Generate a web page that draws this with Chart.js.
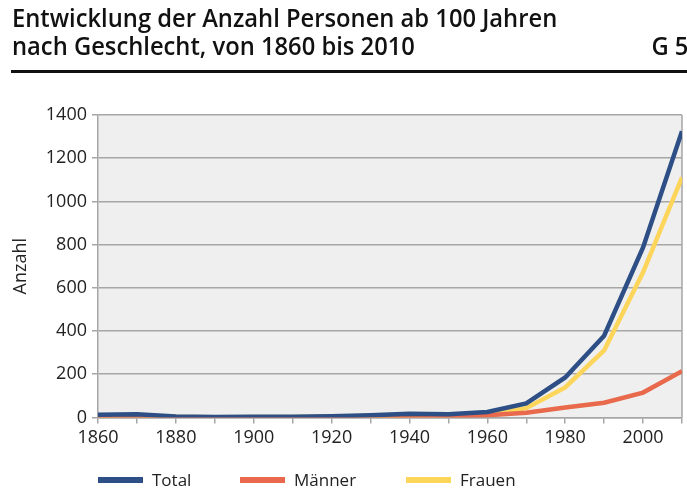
<!DOCTYPE html>
<html>
<head>
<meta charset="utf-8">
<script src="https://cdn.jsdelivr.net/npm/chart.js@4"></script>
<style>
  html, body { margin: 0; padding: 0; background: #fff; }
  #wrap { position: relative; width: 687px; height: 490px; overflow: hidden; }
  #title { position: absolute; left: 12px; top: 3px; width: 712px; font-family: "Open Sans", sans-serif; font-weight: 600; font-size: 25px; line-height: 28px; color: #111; transform: scaleX(0.95); transform-origin: 0 0; }
  #title .g { position: absolute; right: 0; top: 28px; }
  #rule { position: absolute; left: 11px; top: 70px; width: 676px; height: 3px; background: #111; }
  #chart { position: absolute; left: 0; top: 0; }
  #legend { position: absolute; top: 468px; left: 0; width: 687px; height: 24px; font-family: "Open Sans", sans-serif; font-size: 17px; color: #222; }
  #legend span.item { position: absolute; top: 0; line-height: 24px; white-space: nowrap; }
  #legend i { display: inline-block; width: 45px; height: 6px; vertical-align: middle; margin-right: 9px; position: relative; top: -1px; }
</style>
</head>
<body>
<div id="wrap">
  <canvas id="chart" width="687" height="490"></canvas>
  <div id="title">Entwicklung der Anzahl Personen ab 100 Jahren<br>nach Geschlecht, von 1860 bis 2010<span class="g">G 5</span></div>
  <div id="rule"></div>
  <div id="legend"></div>
</div>
<script>
// Jahre und Werte (Personen ab 100 Jahren)
const years = [1860, 1870, 1880, 1890, 1900, 1910, 1920, 1930, 1940, 1950, 1960, 1970, 1980, 1990, 2000, 2010];
const total = [12, 15, 4, 2, 3, 3, 5, 10, 17, 15, 25, 65, 185, 378, 787, 1325];
const maenner = [4, 5, 1, 1, 1, 1, 2, 4, 8, 5, 10, 22, 46, 68, 115, 214];
const frauen = [8, 10, 3, 1, 2, 2, 3, 6, 9, 10, 15, 43, 139, 310, 672, 1111];
const seriesNames = ['Total', 'Männer', 'Frauen'];
const seriesColors = ['#2d4f85', '#e8694c', '#fcd55a'];
const yTicks = [0, 200, 400, 600, 800, 1000, 1200, 1400];
const legendX = [98, 240, 406];

const toPoints = (vals) => vals.map((v, i) => ({ x: years[i], y: v }));

// grauer Hintergrund der Zeichenfläche
const plotBg = {
    id: 'plotBg',
    beforeDraw(chart) {
        const { ctx, chartArea: a } = chart;
        ctx.save();
        ctx.fillStyle = '#efefef';
        ctx.fillRect(a.left, a.top, a.right - a.left, a.bottom - a.top);
        ctx.strokeStyle = '#a6a6a6';
        ctx.lineWidth = 1.5;
        ctx.beginPath();
        ctx.moveTo(a.right, a.top);
        ctx.lineTo(a.right, a.bottom);
        ctx.stroke();
        ctx.restore();
    }
};

const tickFont = { family: 'Open Sans', size: 18 };

const chart = new Chart(document.getElementById('chart'), {
    type: 'line',
    data: {
        datasets: [total, maenner, frauen].map((vals, i) => ({
            label: seriesNames[i],
            data: toPoints(vals),
            borderColor: seriesColors[i],
            backgroundColor: seriesColors[i],
            borderWidth: 4.5,
            pointRadius: 0,
            tension: 0,
            order: i
        }))
    },
    options: {
        responsive: false,
        animation: false,
        layout: { padding: { top: 115, right: 5, left: 10, bottom: 37 } },
        plugins: {
            legend: { display: false },
            tooltip: { enabled: false }
        },
        scales: {
            x: {
                type: 'linear',
                min: 1860,
                max: 2010,
                grid: { drawOnChartArea: false, color: '#a6a6a6', tickLength: 6, lineWidth: 1.5 },
                border: { color: '#a6a6a6', width: 1.5 },
                ticks: {
                    stepSize: 10,
                    autoSkip: false,
                    maxRotation: 0,
                    padding: 4,
                    color: '#222',
                    font: tickFont,
                    callback: v => (v % 20 === 0 && v <= 2000) ? String(v) : ''
                }
            },
            y: {
                min: 0,
                max: 1400,
                afterFit(scale) { scale.width = 88; },
                afterBuildTicks(scale) { scale.ticks = yTicks.map(v => ({ value: v })); },
                grid: { color: '#a6a6a6', lineWidth: 1.5, tickLength: 6 },
                border: { color: '#a6a6a6', width: 1.5 },
                title: { display: true, text: 'Anzahl', color: '#222', padding: { top: 0, bottom: 0 }, font: { family: 'Open Sans', size: 18 } },
                ticks: { color: '#222', font: tickFont, padding: 5, callback: v => String(v) }
            }
        }
    },
    plugins: [plotBg]
});

// Legende
const legend = document.getElementById('legend');
chart.data.datasets.forEach((ds, i) => {
    const item = document.createElement('span');
    item.className = 'item';
    item.style.left = legendX[i] + 'px';
    item.innerHTML = '<i style="background:' + ds.borderColor + '"></i>' + ds.label;
    legend.appendChild(item);
});
</script>
</body>
</html>
